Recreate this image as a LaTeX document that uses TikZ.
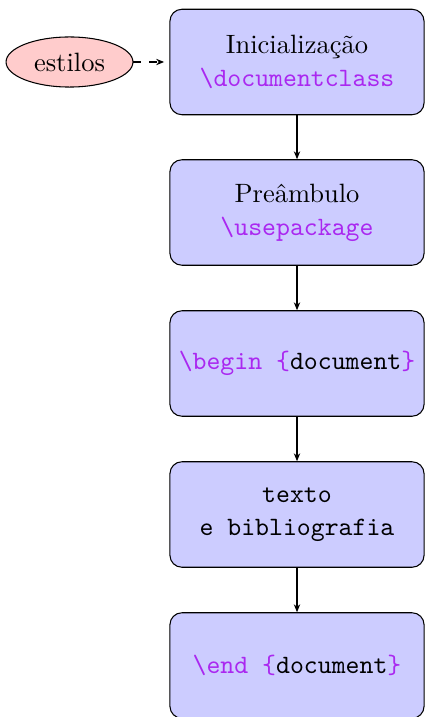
\documentclass[tikz,border=0pt]{standalone}
\usepackage{fontspec}
\usetikzlibrary{shapes.geometric,arrows.meta}
\definecolor{boxfill}{RGB}{204,204,255}
\definecolor{ellfill}{RGB}{255,204,204}
\definecolor{kw}{RGB}{170,40,240}
\begin{document}
\begin{tikzpicture}[x=0.3774pt,y=-0.3774pt,
  stepbox/.style={draw, rounded corners=4.5pt, fill=boxfill, line width=0.4pt,
    minimum width=95.9pt, minimum height=39.8pt, align=center, inner sep=0pt},
  ellnode/.style={draw, ellipse, fill=ellfill, line width=0.4pt,
    minimum width=47.9pt, minimum height=18.9pt, inner sep=0pt},
  conn/.style={-{Stealth[length=3pt,width=2.4pt]}, line width=0.4pt},
  dconn/.style={conn, dashed, shorten >=2pt}]
\useasboundingbox (0,0) rectangle (424,717);
\node[stepbox] (init) at (297,62) {Inicialização\\[0.5pt]\texttt{\textcolor{kw}{\textbackslash documentclass}}};
\node[stepbox] (pre) at (297,212.5) {Preâmbulo\\[0.5pt]\texttt{\textcolor{kw}{\textbackslash usepackage}}};
\node[stepbox] (begin) at (297,363.5) {\texttt{\textcolor{kw}{\textbackslash begin \{}document\textcolor{kw}{\}}}};
\node[stepbox] (texto) at (297,514.5) {\texttt{texto}\\[0.5pt]\texttt{e bibliografia}};
\node[stepbox] (end) at (297,665.5) {\texttt{\textcolor{kw}{\textbackslash end \{}document\textcolor{kw}{\}}}};
\node[ellnode] (est) at (69.5,62) {estilos};
\draw[dconn] (est) -- (init);
\draw[conn] (init) -- (pre);
\draw[conn] (pre) -- (begin);
\draw[conn] (begin) -- (texto);
\draw[conn] (texto) -- (end);
\end{tikzpicture}
\end{document}
